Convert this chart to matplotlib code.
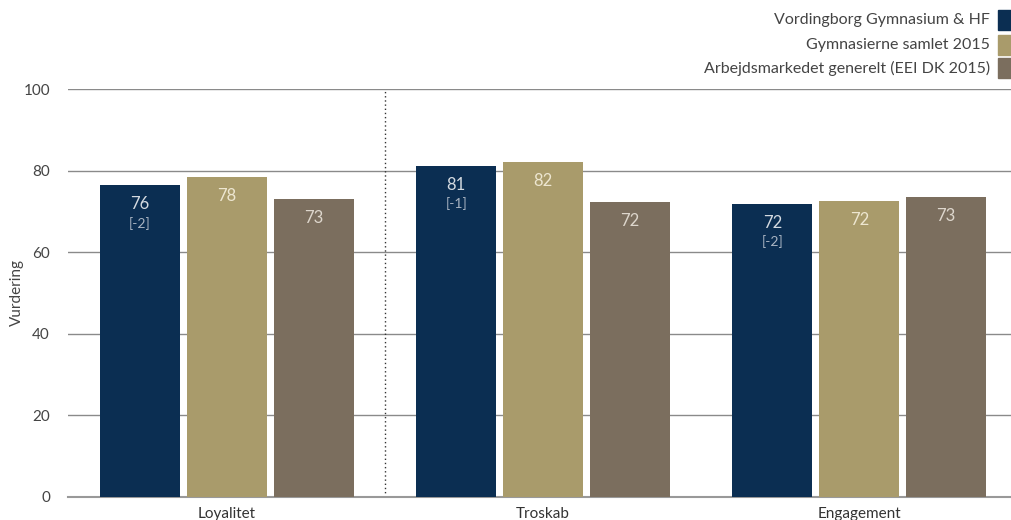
import matplotlib
matplotlib.use('Agg')
import matplotlib.pyplot as plt
import numpy as np

categories = ['Loyalitet', 'Troskab', 'Engagement']
series = ['Vordingborg Gymnasium & HF', 'Gymnasierne samlet 2015',
          'Arbejdsmarkedet generelt (EEI DK 2015)']
school = [76.4, 81.1, 71.8]
gymn = [78.4, 82.1, 72.5]
market = [73.0, 72.3, 73.5]
school_lbl = ['76', '81', '72']
gymn_lbl = ['78', '82', '72']
market_lbl = ['73', '72', '73']
diff_lbl = ['[-2]', '[-1]', '[-2]']

colors = ['#0b2e52', '#a99b6b', '#7b6e5e']
txt_colors = ['#d4dae0', '#ede6d0', '#ddd6cc']

plt.rcParams['font.family'] = ['Lato', 'DejaVu Sans']

fig = plt.figure(figsize=(10.11, 5.2), dpi=100)
ax = fig.add_axes([68 / 1011, 23 / 520, 943 / 1011, 408 / 520])

x = np.arange(len(categories))
w = 0.253
step = 0.275
values = [school, gymn, market]
labels = [school_lbl, gymn_lbl, market_lbl]
for i, (vals, lbls) in enumerate(zip(values, labels)):
    xs = x + (i - 1) * step
    ax.bar(xs, vals, width=w, color=colors[i], zorder=3)
    for j, (xx, v, l) in enumerate(zip(xs, vals, lbls)):
        ax.text(xx, v - 4.6, l, ha='center', va='center', fontsize=12,
                color=txt_colors[i], zorder=4)
        if i == 0:
            ax.text(xx, v - 9.3, diff_lbl[j], ha='center', va='center',
                    fontsize=10, color='#a9b4c2', zorder=4)

ax.set_xlim(-0.503, 2.48)
ax.set_ylim(0, 100)
ax.set_yticks([0, 20, 40, 60, 80, 100])
ax.yaxis.grid(True, color='#8a8a8a', linewidth=1, zorder=0)
ax.axvline(0.5, color='#333333', linestyle=(0, (1, 2)), linewidth=1, zorder=2)
for s in ['top', 'right', 'left']:
    ax.spines[s].set_visible(False)
ax.spines['bottom'].set_color('#999999')
ax.spines['bottom'].set_linewidth(1.5)
ax.tick_params(axis='y', length=0, labelsize=11, labelcolor='#444444', pad=13)
ax.tick_params(axis='x', length=0, labelsize=11, labelcolor='#333333', pad=7)
ax.set_xticks(x)
ax.set_xticklabels(categories)
fig.text(17 / 1011, 1 - 293 / 520, 'Vurdering', rotation=90, ha='center',
         va='center', fontsize=11, color='#444444')

# legend, top right
ys = [20, 45, 68]
for k, (name, c) in enumerate(zip(series, colors)):
    yf = 1 - ys[k] / 520
    fig.text(990 / 1011, yf, name, ha='right', va='center', fontsize=11.5,
             color='#444444')
    fig.patches.append(plt.Rectangle((998 / 1011, yf - 10 / 520), 13 / 1011, 20 / 520,
                                     transform=fig.transFigure, color=c))

fig.savefig('out.png', dpi=100)
